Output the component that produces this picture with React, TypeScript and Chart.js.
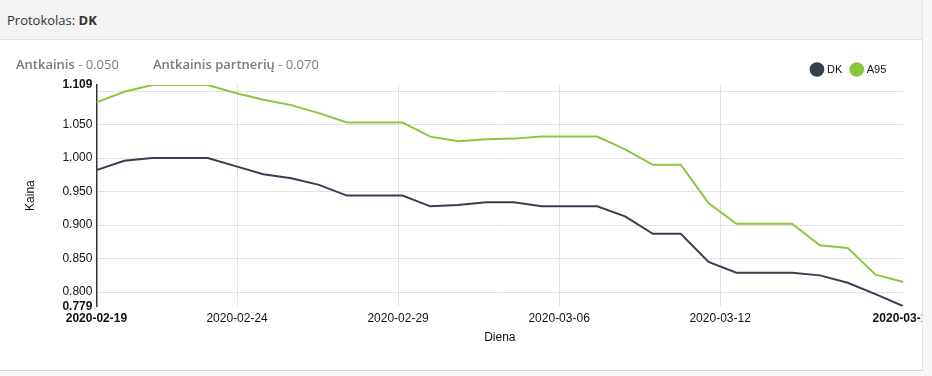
import React, { useEffect, useRef } from 'react';
import Chart from 'chart.js/auto';

const dates = [
  '2020-02-19', '2020-02-20', '2020-02-21', '2020-02-22', '2020-02-23', '2020-02-24',
  '2020-02-25', '2020-02-26', '2020-02-27', '2020-02-28', '2020-02-29', '2020-03-01',
  '2020-03-02', '2020-03-03', '2020-03-04', '2020-03-05', '2020-03-06', '2020-03-07',
  '2020-03-08', '2020-03-09', '2020-03-10', '2020-03-11', '2020-03-12', '2020-03-13',
  '2020-03-14', '2020-03-15', '2020-03-16', '2020-03-17', '2020-03-18', '2020-03-19',
];

const dkValues = [
  0.982, 0.996, 1.0, 1.0, 1.0, 0.988, 0.976, 0.97, 0.96, 0.944,
  0.944, 0.944, 0.928, 0.93, 0.934, 0.934, 0.928, 0.928, 0.928, 0.913,
  0.887, 0.887, 0.845, 0.829, 0.829, 0.829, 0.825, 0.814, 0.797, 0.779,
];

const a95Values = [
  1.083, 1.099, 1.109, 1.109, 1.109, 1.097, 1.087, 1.079, 1.067, 1.053,
  1.053, 1.053, 1.032, 1.025, 1.028, 1.029, 1.032, 1.032, 1.032, 1.013,
  0.99, 0.99, 0.933, 0.902, 0.902, 0.902, 0.87, 0.866, 0.826, 0.815,
];

const seriesLabels = ['DK', 'A95'];
const seriesColors = ['#343f4f', '#8cc63f'];
const yMin = 0.779;
const yMax = 1.109;
const yTickValues = [0.8, 0.85, 0.9, 0.95, 1.0, 1.05, 1.1];
const yHiddenLabels = [1.1];
const xTickStepMs = 5e8;
const tzOffsetMs = 2 * 3600 * 1000;

const TICK_FONT = '"Liberation Sans", Arial, sans-serif';
const HTML_FONT = '"Open Sans", "Noto Sans", sans-serif';

function ChartCanvas() {
  const ref = useRef<HTMLCanvasElement | null>(null);
  useEffect(() => {
    if (!ref.current) return;
    const xs = dates.map((d) => Date.parse(d + 'T00:00:00Z') - tzOffsetMs);
    const xMin = xs[0];
    const xMax = xs[xs.length - 1];
    const isEdge = (v: number, a: number, b: number) => Math.abs(v - a) < 1e-9 || Math.abs(v - b) < 1e-9;

    const legendShift = {
      id: 'legendShift',
      afterLayout(chart: any) {
        const lg = chart.legend;
        if (lg) {
          lg.left -= 7;
          lg.right -= 7;
        }
      },
    };

    const chart = new Chart(ref.current, {
      type: 'line',
      data: {
        datasets: [dkValues, a95Values].map((vals, i) => ({
          label: seriesLabels[i],
          data: xs.map((x, j) => ({ x, y: vals[j] })),
          borderColor: seriesColors[i],
          backgroundColor: seriesColors[i],
          borderWidth: 2,
          pointRadius: 0,
          pointHoverRadius: 0,
          fill: false,
          tension: 0,
        })),
      },
      options: {
        animation: false,
        responsive: false,
        layout: { padding: { top: 14, left: 0, right: 0, bottom: 0 } },
        plugins: {
          tooltip: { enabled: false },
          legend: {
            position: 'top',
            align: 'end',
            fullSize: false,
            labels: {
              usePointStyle: true,
              pointStyle: 'circle',
              boxWidth: 9,
              boxHeight: 9,
              padding: 10,
              color: '#111',
              font: { family: TICK_FONT, size: 11 },
            },
          },
        },
        scales: {
          x: {
            type: 'linear',
            min: xMin,
            max: xMax,
            afterBuildTicks: (scale: any) => {
              const t: { value: number }[] = [{ value: xMin }];
              for (let v = Math.ceil(xMin / xTickStepMs) * xTickStepMs; v < xMax; v += xTickStepMs) {
                if (v - xMin > xTickStepMs / 2 && xMax - v > xTickStepMs / 2) t.push({ value: v });
              }
              t.push({ value: xMax });
              scale.ticks = t;
            },
            ticks: {
              autoSkip: false,
              maxRotation: 0,
              padding: 5,
              color: '#111',
              font: (ctx: any) => ({
                family: TICK_FONT,
                size: 12,
                weight: ctx.tick && isEdge(ctx.tick.value, xMin, xMax) ? 'bold' : 'normal',
              }),
              callback: (v: any) => new Date(Number(v) + tzOffsetMs).toISOString().slice(0, 10),
            },
            grid: {
              drawTicks: false,
              color: (ctx: any) => (ctx.tick && isEdge(ctx.tick.value, xMin, xMax) ? 'rgba(0,0,0,0)' : '#e2e2e2'),
            },
            border: { display: false },
            title: {
              display: true,
              text: 'Diena',
              color: '#111',
              font: { family: TICK_FONT, size: 12 },
              padding: { top: 0, bottom: 25 },
            },
          },
          y: {
            type: 'linear',
            min: yMin,
            max: yMax,
            afterBuildTicks: (scale: any) => {
              scale.ticks = [yMin, ...yTickValues, yMax].map((value) => ({ value }));
            },
            ticks: {
              autoSkip: false,
              padding: 4,
              color: '#111',
              font: (ctx: any) => ({
                family: TICK_FONT,
                size: 12,
                weight: ctx.tick && isEdge(ctx.tick.value, yMin, yMax) ? 'bold' : 'normal',
              }),
              callback: (v: any) => (yHiddenLabels.some((h) => Math.abs(h - Number(v)) < 1e-9) ? '' : Number(v).toFixed(3)),
            },
            grid: {
              drawTicks: false,
              color: (ctx: any) => (ctx.tick && isEdge(ctx.tick.value, yMin, yMax) ? 'rgba(0,0,0,0)' : '#e2e2e2'),
            },
            border: { display: true, color: '#333', width: 1.5 },
            title: {
              display: true,
              text: 'Kaina',
              color: '#111',
              font: { family: TICK_FONT, size: 12 },
              padding: { top: 23, bottom: 21 },
            },
          },
        },
      },
      plugins: [legendShift],
    } as any);
    return () => chart.destroy();
  }, []);
  return <canvas ref={ref} width={939} height={330} style={{ display: 'block', width: 939, height: 330 }} />;
}

export default function App() {
  return (
    <div style={{ position: 'fixed', left: 0, top: 0, width: 932, height: 376, background: '#f8f8f9', overflow: 'hidden' }}>
      <div
        style={{
          position: 'absolute', left: 0, top: 0, width: 923, height: 371, background: '#fff',
          borderRight: '1px solid #e6e6e6', borderBottom: '1px solid #d8d8d8', boxSizing: 'border-box', overflow: 'hidden',
        }}
      >
        <div
          style={{
            position: 'absolute', left: 0, top: 0, width: '100%', height: 40, background: '#f4f4f4',
            borderBottom: '1px solid #e2e2e2', boxSizing: 'border-box', fontFamily: HTML_FONT, fontSize: 13,
            color: '#333', lineHeight: '40px', paddingLeft: 7,
          }}
        >
          Protokolas: <b style={{ fontWeight: 700 }}>DK</b>
        </div>
        <div style={{ position: 'absolute', left: 0, top: 40, width: 939, height: 330 }}>
          <ChartCanvas />
        </div>
        <div style={{ position: 'absolute', left: 16, top: 55, fontFamily: HTML_FONT, fontSize: 13, color: '#7a7a7a', lineHeight: '18px', whiteSpace: 'nowrap' }}>
          <span style={{ fontWeight: 600 }}>Antkainis</span> - 0.050
        </div>
        <div style={{ position: 'absolute', left: 153, top: 55, fontFamily: HTML_FONT, fontSize: 13, color: '#7a7a7a', lineHeight: '18px', whiteSpace: 'nowrap' }}>
          <span style={{ fontWeight: 600 }}>Antkainis partnerių</span> - 0.070
        </div>
      </div>
    </div>
  );
}
